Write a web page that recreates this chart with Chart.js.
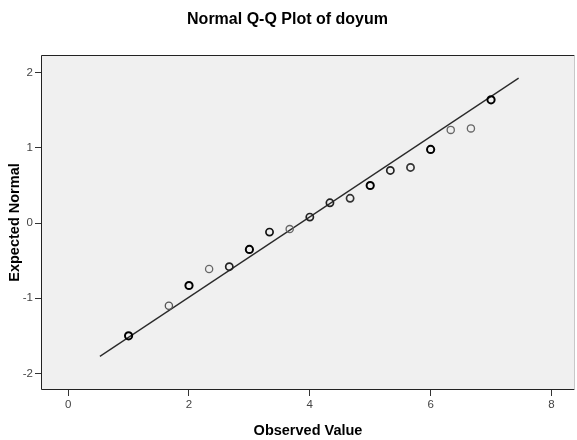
<!DOCTYPE html>
<html>
<head>
<meta charset="utf-8">
<script src="https://cdn.jsdelivr.net/npm/chart.js@4"></script>
<style>
  html, body { margin: 0; padding: 0; background: #ffffff; }
  #wrap { width: 577px; height: 440px; }
</style>
</head>
<body>
<div id="wrap"><canvas id="qq" width="577" height="440"></canvas></div>
<script>
// Observed values of doyum (item means on a 1-7 scale)
const observed = [1, 1.667, 2, 2.333, 2.667, 3, 3.333, 3.667, 4, 4.333, 4.667, 5, 5.333, 5.667, 6, 6.333, 6.667, 7];
// Expected normal quantiles for each observed value
const expectedNormal = [-1.50, -1.10, -0.83, -0.61, -0.58, -0.35, -0.12, -0.08, 0.08, 0.27, 0.33, 0.50, 0.70, 0.74, 0.98, 1.24, 1.26, 1.64];
// Reference line end points
const lineX = [0.525, 7.457];
const lineY = [-1.773, 1.928];
// Tick labels
const xTicks = [0, 2, 4, 6, 8];
const yTicks = [-2, -1, 0, 1, 2];

// marker ink: darker where cases pile up
const markerInk = ['#000', '#555', '#000', '#666', '#222', '#000', '#111', '#666', '#222', '#222',
                   '#333', '#000', '#222', '#333', '#000', '#666', '#666', '#000'];
const markerWidth = markerInk.map(c => c === '#000' ? 2 : (c === '#666' || c === '#555' ? 1.3 : 1.7));

const FONT = 'Arial, "Liberation Sans", sans-serif';

const plotFrame = {
  id: 'plotFrame',
  beforeDraw(chart) {
    const a = chart.chartArea, ctx = chart.ctx;
    ctx.save();
    ctx.fillStyle = '#f0f0f0';
    ctx.fillRect(a.left, a.top, a.right - a.left, a.bottom - a.top);
    ctx.restore();
  },
  afterDatasetsDraw(chart) {
    const a = chart.chartArea, ctx = chart.ctx;
    ctx.save();
    ctx.strokeStyle = '#222';
    ctx.lineWidth = 1;
    ctx.beginPath();
    ctx.moveTo(a.right - 0.5, a.top + 0.5);
    ctx.lineTo(a.left + 0.5, a.top + 0.5);
    ctx.lineTo(a.left + 0.5, a.bottom - 0.5);
    ctx.lineTo(a.right - 0.5, a.bottom - 0.5);
    ctx.stroke();
    ctx.strokeStyle = '#c8c8c8';
    ctx.beginPath();
    ctx.moveTo(a.right - 0.5, a.top + 0.5);
    ctx.lineTo(a.right - 0.5, a.bottom - 0.5);
    ctx.stroke();
    ctx.restore();
  }
};

new Chart(document.getElementById('qq'), {
  type: 'scatter',
  data: {
    datasets: [
      {
        type: 'line',
        data: lineX.map((x, i) => ({ x, y: lineY[i] })),
        borderColor: '#2a2a2a',
        borderWidth: 1.3,
        pointRadius: 0,
        fill: false,
        order: 2
      },
      {
        data: observed.map((x, i) => ({ x, y: expectedNormal[i] })),
        pointStyle: 'circle',
        pointRadius: 3.6,
        pointBackgroundColor: 'rgba(0,0,0,0)',
        pointBorderColor: markerInk,
        pointBorderWidth: markerWidth,
        order: 1
      }
    ]
  },
  options: {
    responsive: false,
    animation: false,
    events: [],
    layout: { autoPadding: false, padding: { left: 0, right: 2, top: 0, bottom: 0 } },
    plugins: {
      legend: { display: false },
      tooltip: { enabled: false },
      title: {
        display: true,
        text: 'Normal Q-Q Plot of doyum',
        color: '#000',
        font: { family: FONT, size: 16, weight: 'bold' },
        padding: { top: 10, bottom: 25.8 }
      }
    },
    scales: {
      x: {
        type: 'linear',
        min: -0.45,
        max: 8.39,
        afterBuildTicks(scale) { scale.ticks = xTicks.map(v => ({ value: v })); },
        afterFit(scale) { scale.height = 50; },
        grid: { drawOnChartArea: false, drawTicks: true, tickLength: 6, color: '#333', tickWidth: 1 },
        border: { display: false },
        ticks: {
          color: '#444',
          padding: 2,
          maxRotation: 0,
          font: { family: FONT, size: 11.5 }
        },
        title: {
          display: true,
          text: 'Observed Value',
          color: '#000',
          padding: { top: 0, bottom: 0 },
          font: { family: FONT, size: 14.5, weight: 'bold' }
        }
      },
      y: {
        type: 'linear',
        min: -2.22,
        max: 2.236,
        afterBuildTicks(scale) { scale.ticks = yTicks.map(v => ({ value: v })); },
        afterFit(scale) { scale.width = 41; },
        grid: { drawOnChartArea: false, drawTicks: true, tickLength: 6, color: '#333', tickWidth: 1 },
        border: { display: false },
        ticks: {
          color: '#444',
          padding: 2,
          font: { family: FONT, size: 11.5 }
        },
        title: {
          display: true,
          text: 'Expected Normal',
          color: '#000',
          padding: { top: 6, bottom: 0 },
          font: { family: FONT, size: 14.5, weight: 'bold' }
        }
      }
    }
  },
  plugins: [plotFrame]
});
</script>
</body>
</html>
